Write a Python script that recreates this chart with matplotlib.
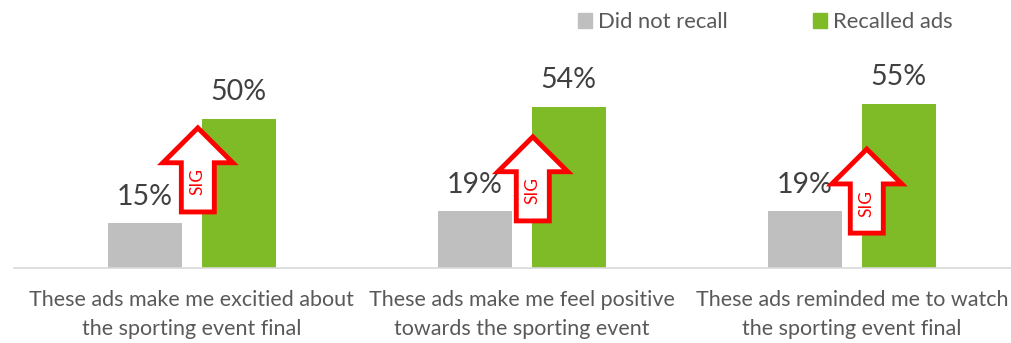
import numpy as np
import matplotlib.pyplot as plt
from matplotlib.patches import Polygon, Patch

# data
categories = ["These ads make me excitied about\nthe sporting event final",
              "These ads make me feel positive\ntowards the sporting event",
              "These ads reminded me to watch\nthe sporting event final"]
did_not_recall = [15, 19, 19]
recalled_ads = [50, 54, 55]
series_names = ["Did not recall", "Recalled ads"]
sig_labels = ["SIG", "SIG", "SIG"]
sig_base = [18.8, 15.8, 11.7]       # where each SIG arrow starts (in %)
sig_shift = [0.018, 0.033, 0.045]   # arrow offset from group centre

GREY = "#BFBFBF"
GREEN = "#7FBA27"
TXT = "#595959"
RED = "#FF0000"

plt.rcParams["font.family"] = ["Lato", "DejaVu Sans"]

fig = plt.figure(figsize=(10.12, 3.43), dpi=100)
ax = fig.add_axes([14 / 1012, 75 / 343, 998 / 1012, 268 / 343])

x = np.arange(len(categories))
w = 0.224
off = 0.142
b1 = ax.bar(x - off, did_not_recall, w, color=GREY, label=series_names[0], zorder=2)
b2 = ax.bar(x + off, recalled_ads, w, color=GREEN, label=series_names[1], zorder=2)

for bars, vals in [(b1, did_not_recall), (b2, recalled_ads)]:
    for b, v in zip(bars, vals):
        ax.annotate(f"{v}%", (b.get_x() + b.get_width() / 2, v),
                    xytext=(0, 13.5), textcoords="offset points",
                    ha="center", va="baseline", fontsize=20.5, color="#404040")

# SIG arrows
head_hw = 0.106
shaft_hw = 0.05
total_h = 28.2
head_h = 11.7
for i in range(len(categories)):
    cx = x[i] + sig_shift[i]
    y0 = sig_base[i]
    pts = [(cx - shaft_hw, y0), (cx + shaft_hw, y0),
           (cx + shaft_hw, y0 + total_h - head_h), (cx + head_hw, y0 + total_h - head_h),
           (cx, y0 + total_h), (cx - head_hw, y0 + total_h - head_h),
           (cx - shaft_hw, y0 + total_h - head_h)]
    ax.add_patch(Polygon(pts, closed=True, facecolor="white", edgecolor=RED,
                         linewidth=3.5, joinstyle="miter", zorder=4))
    ax.text(cx, y0 + (total_h - head_h) / 2 + 1.8, sig_labels[i], rotation=90,
            ha="center", va="center", fontsize=12.5, color=RED, zorder=5)

ax.set_xlim(-0.539, 2.485)
ax.set_ylim(0, 89.9)
ax.set_xticks(x)
ax.set_xticklabels(categories, fontsize=15.5, color=TXT, linespacing=1.55)
ax.tick_params(axis="x", length=0, pad=16)
ax.set_yticks([])
for s in ["top", "right", "left"]:
    ax.spines[s].set_visible(False)
ax.spines["bottom"].set_color("#D9D9D9")
ax.spines["bottom"].set_linewidth(1.2)

handles = [Patch(color=GREY), Patch(color=GREEN)]
fig.legend(handles, series_names, loc="center left", bbox_to_anchor=(558 / 1012, 1 - 22 / 343),
           ncol=2, frameon=False, fontsize=15.8, labelcolor=TXT,
           handlelength=0.65, handleheight=0.65, handletextpad=0.25, columnspacing=3.9)

fig.savefig("out.png", dpi=100)
